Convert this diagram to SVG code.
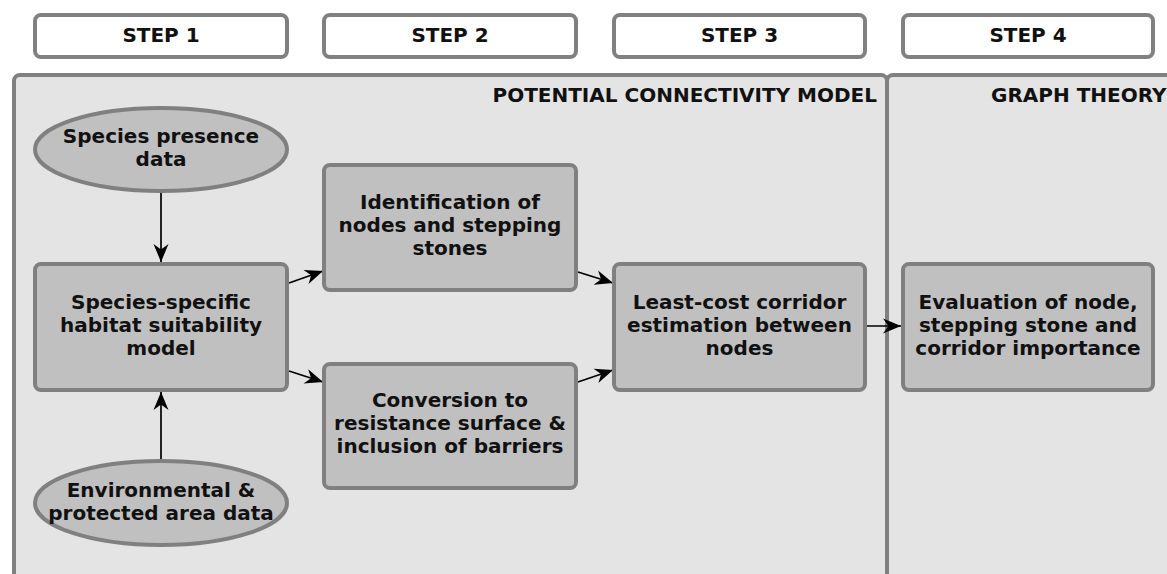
<svg xmlns="http://www.w3.org/2000/svg" width="1167" height="574" viewBox="0 0 1167 574">
<style>
text{font-family:"DejaVu Sans","Liberation Sans",sans-serif;font-weight:bold;font-size:20px;fill:#111;text-anchor:middle}
.step{fill:#ffffff;stroke:#808080;stroke-width:4}
.panel{fill:#e4e4e4;stroke:#808080;stroke-width:4}
.box{fill:#c0c0c0;stroke:#808080;stroke-width:4}
.conn{stroke:#000;stroke-width:1.7;fill:none}
</style>
<defs>
<marker id="ah" markerUnits="userSpaceOnUse" markerWidth="22" markerHeight="18" viewBox="-19 -9 20 18" refX="0" refY="0" orient="auto">
<path d="M0,0 L-18,-7.5 L-12.5,0 L-18,7.5 Z" fill="#000"/>
</marker>
</defs>
<g id="panels">
<rect class="panel" x="14" y="75" width="873" height="540" rx="6"/>
<rect class="panel" x="887" y="75" width="320" height="540" rx="6"/>
<text x="877" y="102" style="text-anchor:end">POTENTIAL CONNECTIVITY MODEL</text>
<text x="991" y="102" style="text-anchor:start">GRAPH THEORY</text>
</g>
<g id="step1"><rect class="step" x="35" y="15" width="252" height="42" rx="6"/><text x="161" y="42">STEP 1</text></g>
<g id="step2"><rect class="step" x="324" y="15" width="252" height="42" rx="6"/><text x="450" y="42">STEP 2</text></g>
<g id="step3"><rect class="step" x="614" y="15" width="251" height="42" rx="6"/><text x="739.5" y="42">STEP 3</text></g>
<g id="step4"><rect class="step" x="903" y="15" width="250" height="42" rx="6"/><text x="1028" y="42">STEP 4</text></g>
<g id="connectors">
<line class="conn" x1="161" y1="193" x2="161" y2="262" marker-end="url(#ah)"/>
<line class="conn" x1="161" y1="459" x2="161" y2="392" marker-end="url(#ah)"/>
<line class="conn" x1="289" y1="283" x2="323" y2="271" marker-end="url(#ah)"/>
<line class="conn" x1="289" y1="371" x2="323" y2="382" marker-end="url(#ah)"/>
<line class="conn" x1="578" y1="272" x2="613" y2="283" marker-end="url(#ah)"/>
<line class="conn" x1="578" y1="382" x2="613" y2="370" marker-end="url(#ah)"/>
<line class="conn" x1="867" y1="326" x2="901" y2="326" marker-end="url(#ah)"/>
</g>
<g id="presence"><ellipse class="box" cx="161" cy="149.5" rx="126" ry="41.5"/><text x="161" y="143">Species presence</text><text x="161" y="166">data</text></g>
<g id="environment"><ellipse class="box" cx="161" cy="503" rx="126" ry="42"/><text x="161" y="497">Environmental &amp;</text><text x="161" y="520">protected area data</text></g>
<g id="hsm"><rect class="box" x="35" y="264" width="252" height="126" rx="6"/><text x="161" y="309">Species-specific</text><text x="161" y="332">habitat suitability</text><text x="161" y="355">model</text></g>
<g id="identification"><rect class="box" x="324" y="165" width="252" height="125" rx="6"/><text x="450" y="209">Identification of</text><text x="450" y="232">nodes and stepping</text><text x="450" y="255">stones</text></g>
<g id="conversion"><rect class="box" x="324" y="364" width="252" height="124" rx="6"/><text x="450" y="407">Conversion to</text><text x="450" y="430">resistance surface &amp;</text><text x="450" y="453">inclusion of barriers</text></g>
<g id="leastcost"><rect class="box" x="614" y="264" width="251" height="126" rx="6"/><text x="739.5" y="309">Least-cost corridor</text><text x="739.5" y="332">estimation between</text><text x="739.5" y="355">nodes</text></g>
<g id="evaluation"><rect class="box" x="903" y="264" width="250" height="126" rx="6"/><text x="1028" y="309">Evaluation of node,</text><text x="1028" y="332">stepping stone and</text><text x="1028" y="355">corridor importance</text></g>
</svg>
